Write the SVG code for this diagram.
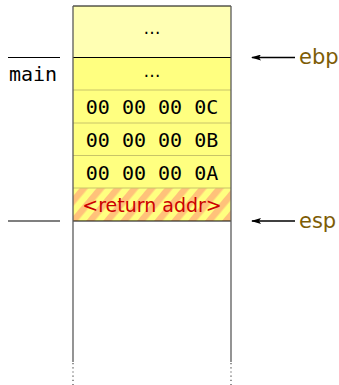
<svg xmlns="http://www.w3.org/2000/svg" width="339" height="385" viewBox="0 0 339 385">
<defs>
<style>
.mono{font-family:"DejaVu Sans Mono","Liberation Mono",monospace;font-size:20px;fill:#000}
.dots{font-family:"DejaVu Sans","Liberation Sans",sans-serif;font-size:17px;fill:#000}
.sans{font-family:"DejaVu Sans","Liberation Sans",sans-serif;font-size:19px}
.reg{fill:#7d5c05;font-size:21px}
.sep{stroke:#c8c468;stroke-width:1}
.edge{stroke:#5a5a5a;stroke-width:1.3;fill:none}
.blk{stroke:#000;stroke-width:1.2}
.arr{stroke:#000;stroke-width:1.5;marker-end:url(#ah)}
</style>
<marker id="ah" viewBox="0 0 10 6" refX="9" refY="3" markerWidth="10" markerHeight="6" markerUnits="userSpaceOnUse" orient="auto">
<path d="M0,0 L10,3 L0,6 L2,3 z" fill="#000"/>
</marker>
<pattern id="hatch" patternUnits="userSpaceOnUse" width="13" height="13" patternTransform="rotate(40)">
<rect width="13" height="13" fill="#ffff80"/>
<rect width="6.5" height="13" fill="#ffc27a"/>
</pattern>
</defs>
<g id="stack">
<rect x="73" y="6" width="158" height="51.5" fill="#ffffb3"/>
<rect x="73" y="57.5" width="158" height="130.5" fill="#ffff80"/>
<rect x="73" y="188" width="158" height="33" fill="url(#hatch)"/>
</g>
<g id="cell-top"><text class="dots" x="152" y="34" text-anchor="middle">…</text></g>
<g id="cell-main"><text class="dots" x="152" y="77" text-anchor="middle">…</text></g>
<g id="cell-0c"><line class="sep" x1="73" y1="90" x2="231" y2="90"/><text class="mono" x="152" y="113.5" text-anchor="middle" xml:space="preserve">00 00 00 0C</text></g>
<g id="cell-0b"><line class="sep" x1="73" y1="123" x2="231" y2="123"/><text class="mono" x="152" y="146.5" text-anchor="middle" xml:space="preserve">00 00 00 0B</text></g>
<g id="cell-0a"><line class="sep" x1="73" y1="155.5" x2="231" y2="155.5"/><text class="mono" x="152" y="179.5" text-anchor="middle" xml:space="preserve">00 00 00 0A</text></g>
<g id="cell-ret"><line class="sep" x1="73" y1="188" x2="231" y2="188"/><text class="sans" x="152" y="212" text-anchor="middle" fill="#cc0000">&lt;return addr&gt;</text></g>
<g id="frame">
<line class="blk" x1="73" y1="6" x2="231" y2="6"/>
<line class="blk" x1="73" y1="57.5" x2="231" y2="57.5"/>
<line class="blk" x1="73" y1="221" x2="231" y2="221"/>
<line class="edge" x1="73" y1="6" x2="73" y2="362"/>
<line class="edge" x1="231" y1="6" x2="231" y2="362" stroke="#333"/>
<line class="edge" x1="73" y1="363" x2="73" y2="385" stroke-dasharray="1.2 3"/>
<line class="edge" x1="231" y1="363" x2="231" y2="385" stroke-dasharray="1.2 3"/>
</g>
<g id="main-label">
<line class="blk" x1="8" y1="57.5" x2="60" y2="57.5"/>
<line class="blk" x1="8" y1="221" x2="60" y2="221"/>
<text class="mono" x="9" y="81">main</text>
</g>
<g id="connectors">
<line class="arr" x1="295" y1="57.5" x2="252" y2="57.5"/>
<line class="arr" x1="295" y1="221" x2="252" y2="221"/>
</g>
<g id="ebp"><text class="sans reg" x="299" y="64">ebp</text></g>
<g id="esp"><text class="sans reg" x="299" y="227.5">esp</text></g>
</svg>
